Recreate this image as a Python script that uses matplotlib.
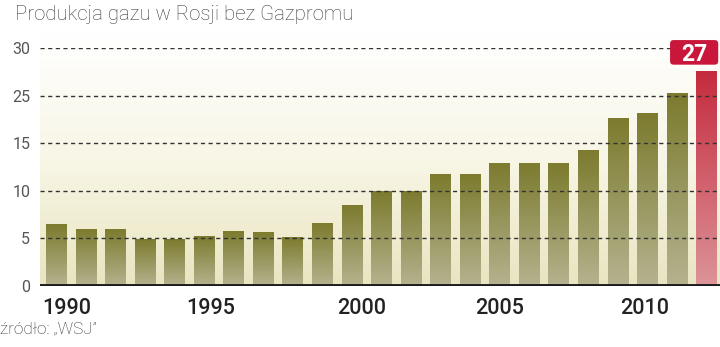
import matplotlib
matplotlib.use("Agg")
import matplotlib.pyplot as plt
import numpy as np
from matplotlib.colors import LinearSegmentedColormap
from matplotlib.patches import FancyBboxPatch

plt.rcParams['font.family'] = ['Roboto', 'DejaVu Sans']

# data (axis units, 0..30)
years = list(range(1990, 2013))
values = [7.8, 7.1, 7.1, 5.9, 5.9, 6.2, 6.9, 6.8, 6.1, 7.9,
          10.1, 11.9, 11.9, 14.1, 14.1, 15.5, 15.5, 15.5, 17.1,
          21.1, 21.8, 24.3, 27.0]
highlight_label = "27"
ytick_vals = [0, 6, 12, 18, 24, 30]
ytick_labels = ["0", "5", "10", "15", "25", "30"]
xtick_years = ["1990", "1995", "2000", "2005", "2010"]
xtick_pos = [0.36, 5.2, 10.34, 15.0, 19.9]

olive = LinearSegmentedColormap.from_list("olive", ["#b4b38f", "#7c7b2e"])
red = LinearSegmentedColormap.from_list("red", ["#dc9499", "#c52b3e"])
bg = LinearSegmentedColormap.from_list("bg", ["#e9e5c1", "#f8f6e6", "#ffffff"])

fig = plt.figure(figsize=(7.2, 3.47), dpi=100)
ax = fig.add_axes([40 / 720, 61 / 347, 680 / 720, 238 / 347])

x = np.arange(len(years))
xlim = (-0.56, 22.45)

# background gradient
grad = np.linspace(0, 1, 256).reshape(-1, 1)
ax.imshow(grad, extent=[xlim[0], xlim[1], 0, 32], origin="lower", cmap=bg,
          aspect="auto", zorder=0, clip_on=False)

bars = ax.bar(x, values, width=0.71, color="none", zorder=2)
for i, b in enumerate(bars):
    x0, w, h = b.get_x(), b.get_width(), b.get_height()
    cm = red if i == len(bars) - 1 else olive
    ax.imshow(grad, extent=[x0, x0 + w, 0, h], origin="lower", cmap=cm,
              aspect="auto", zorder=2)

ax.set_xlim(*xlim)
ax.set_ylim(0, 30)

# dashed grid on top of bars
for v in ytick_vals[1:]:
    ax.axhline(v, color="#333333", lw=1.0, ls=(0, (3, 2.5)), zorder=3)

ax.axhline(0, color="#1a1a1a", lw=3.5, zorder=4)

for s in ax.spines.values():
    s.set_visible(False)
ax.set_yticks(ytick_vals)
ax.set_yticklabels(ytick_labels, fontsize=11.5, color="#555555")
ax.set_xticks(xtick_pos)
ax.set_xticklabels(xtick_years, fontsize=15.5, color="#222222", fontweight="medium")
ax.tick_params(axis="both", length=0)
ax.tick_params(axis="y", pad=7)
ax.tick_params(axis="x", pad=9)

# label box for last bar
bx0, bw, by0, bh = x[-1] - 1.24, 1.63, 27.9, 3.1
box = FancyBboxPatch((bx0, by0), bw, bh,
                     boxstyle="round,pad=0,rounding_size=0.12",
                     mutation_aspect=3.73, fc="#c8173a", ec="none",
                     zorder=6, clip_on=False)
ax.add_patch(box)
ax.text(bx0 + bw / 2, by0 + bh / 2, highlight_label, ha="center",
        va="center_baseline", fontsize=16.5, fontweight="bold", color="white",
        zorder=7, clip_on=False)

fig.text(15 / 720, 1 - 14 / 347, "Produkcja gazu w Rosji bez Gazpromu",
         fontsize=14.7, color="#3c3c3c", fontweight="light", va="center")
fig.text(0, 1 - 329 / 347, "źródło: „WSJ”", fontsize=12.3, color="#333333",
         fontweight="light", va="center")

fig.savefig("out.png", dpi=100)
